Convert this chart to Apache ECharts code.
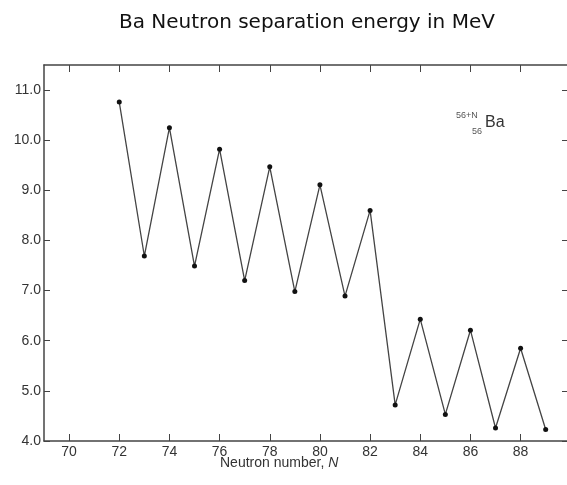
<!DOCTYPE html>
<html>
<head>
<meta charset="utf-8">
<script src="https://cdn.jsdelivr.net/npm/echarts@6/dist/echarts.min.js"></script>
<style>
  html, body { margin: 0; padding: 0; background: #fff; }
  #main { width: 567px; height: 485px; }
</style>
</head>
<body>
<div id="main"></div>
<script>
// neutron number N and separation energy (MeV)
var neutrons = [72, 73, 74, 75, 76, 77, 78, 79, 80, 81, 82, 83, 84, 85, 86, 87, 88, 89];
var energy = [10.76, 7.69, 10.25, 7.49, 9.82, 7.20, 9.47, 6.98, 9.11, 6.89, 8.60, 4.72, 6.43, 4.53, 6.21, 4.26, 5.85, 4.23];
var xTicks = [70, 72, 74, 76, 78, 80, 82, 84, 86, 88];
var yTicks = [4, 5, 6, 7, 8, 9, 10, 11];

var chart = echarts.init(document.getElementById('main'));

var axisCol = '#444';
var labelFont = 'Liberation Sans';

var pts = [];
for (var i = 0; i < neutrons.length; i++) {
    pts.push([neutrons[i], energy[i]]);
}

var option = {
    backgroundColor: '#fff',
    animation: false,
    title: {
        text: 'Ba Neutron separation energy in MeV',
        left: 114,
        top: 8,
        textStyle: { fontFamily: 'DejaVu Sans', fontWeight: 'normal', fontSize: 20, color: '#111' }
    },
    grid: { left: 44, right: 0, top: 65, bottom: 44 },
    xAxis: [{
        type: 'value', min: 69, max: 89.85, position: 'bottom',
        axisLine: { lineStyle: { color: axisCol, width: 1.5 } },
        axisTick: { inside: true, length: 7, customValues: xTicks, lineStyle: { color: axisCol } },
        axisLabel: { customValues: xTicks, margin: 4, color: '#333', fontSize: 14, fontFamily: labelFont },
        splitLine: { show: false }
    }, {
        type: 'value', min: 69, max: 89.85, position: 'top',
        axisLine: { lineStyle: { color: axisCol, width: 1.5 } },
        axisTick: { inside: true, length: 7, customValues: xTicks, lineStyle: { color: axisCol } },
        axisLabel: { show: false },
        splitLine: { show: false }
    }],
    yAxis: [{
        type: 'value', min: 4, max: 11.5, position: 'left',
        axisLine: { show: true, lineStyle: { color: axisCol, width: 1.5 } },
        axisTick: { show: true, inside: true, length: 6, customValues: yTicks, lineStyle: { color: axisCol } },
        axisLabel: {
            customValues: yTicks, margin: 3, color: '#333', fontSize: 14, fontFamily: labelFont,
            formatter: function (v) { return v.toFixed(1); }
        },
        splitLine: { show: false }
    }, {
        type: 'value', min: 4, max: 11.5, position: 'right',
        axisLine: { show: false },
        axisTick: { show: true, inside: true, length: 5, customValues: yTicks, lineStyle: { color: axisCol } },
        axisLabel: { show: false },
        splitLine: { show: false }
    }],
    graphic: [{
        type: 'text', left: 220, top: 456,
        style: {
            text: '{a|Neutron number, }{b|N}',
            rich: {
                a: { fontFamily: labelFont, fontSize: 14, fill: '#333' },
                b: { fontFamily: labelFont, fontSize: 14, fontStyle: 'italic', fill: '#333' }
            }
        }
    }, {
        type: 'text', left: 456, top: 111,
        style: { text: '56+N', fontFamily: labelFont, fontSize: 9, fill: '#555' }
    }, {
        type: 'text', left: 472, top: 127,
        style: { text: '56', fontFamily: labelFont, fontSize: 9, fill: '#555' }
    }, {
        type: 'text', left: 485, top: 115,
        style: { text: 'Ba', fontFamily: labelFont, fontSize: 16, fill: '#333' }
    }],
    series: [{
        type: 'line',
        data: pts,
        symbol: 'circle',
        symbolSize: 5,
        itemStyle: { color: '#111' },
        lineStyle: { color: '#444', width: 1.3 }
    }]
};

chart.setOption(option);
</script>
</body>
</html>
